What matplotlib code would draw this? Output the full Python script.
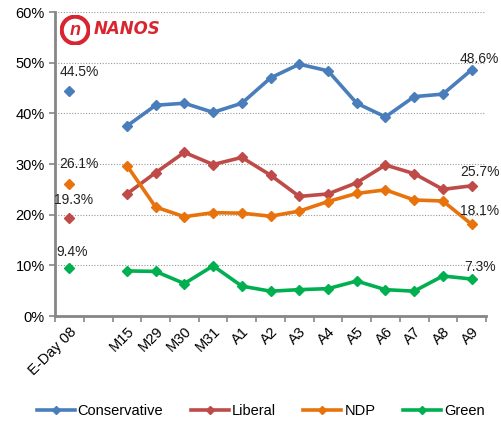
import numpy as np
import matplotlib
matplotlib.use("Agg")
import matplotlib.pyplot as plt
from matplotlib.patches import Circle

plt.rcParams['font.family'] = ['Liberation Sans', 'DejaVu Sans']

# categories (second slot is an empty gap after election day)
categories = ['E-Day 08', '', 'M15', 'M29', 'M30', 'M31', 'A1', 'A2', 'A3',
              'A4', 'A5', 'A6', 'A7', 'A8', 'A9']

nan = np.nan
conservative = [44.5, nan, 37.5, 41.6, 42.0, 40.2, 42.0, 47.0, 49.7, 48.4, 42.0, 39.3, 43.3, 43.8, 48.6]
liberal      = [19.3, nan, 24.1, 28.3, 32.3, 29.9, 31.3, 27.8, 23.6, 24.1, 26.3, 29.8, 28.1, 25.0, 25.7]
ndp          = [26.1, nan, 29.7, 21.5, 19.6, 20.4, 20.3, 19.7, 20.7, 22.6, 24.2, 24.9, 22.9, 22.7, 18.1]
green        = [9.4, nan, 8.9, 8.8, 6.4, 9.9, 5.9, 4.9, 5.2, 5.4, 6.9, 5.2, 4.9, 7.9, 7.3]

series = [('Conservative', conservative, '#4A7EBB'),
          ('Liberal', liberal, '#BE4B48'),
          ('NDP', ndp, '#E8730C'),
          ('Green', green, '#00B050')]

# label offsets in pixels for first and last values
first_off = {'Conservative': (10, 19), 'Liberal': (4, 18), 'NDP': (9, 20), 'Green': (3, 16)}
last_off = {'Conservative': (8, 11), 'Liberal': (8, 14), 'NDP': (8, 13), 'Green': (8, 12)}

fig = plt.figure(figsize=(5.01, 4.21), dpi=100)
ax = fig.add_axes([0.11, 0.2494, 0.86, 0.722])

x = np.arange(len(categories))
for name, vals, col in series:
    vals = np.array(vals, dtype=float)
    ax.plot(x[2:], vals[2:], color=col, lw=2.6, marker='D', ms=5.5, label=name,
            solid_joinstyle='round')
    ax.plot(x[0], vals[0], color=col, marker='D', ms=5.5, ls='none')
    ax.annotate(f'{vals[0]:.1f}%', (x[0], vals[0]), xytext=first_off[name],
                textcoords='offset pixels', ha='center', va='center', fontsize=10, color='#222222')
    ax.annotate(f'{vals[-1]:.1f}%', (x[-1], vals[-1]), xytext=last_off[name],
                textcoords='offset pixels', ha='center', va='center', fontsize=10, color='#222222')

ax.set_xlim(-0.5, len(categories) - 0.5)
ax.set_ylim(0, 60)
ax.set_yticks(np.arange(0, 61, 10))
ax.set_yticklabels([f'{v}%' for v in range(0, 61, 10)], fontsize=10.5)
ax.set_xticks(x)
ax.set_xticklabels(categories, rotation=45, ha='right', rotation_mode='anchor', fontsize=10.5)
ax.set_xticks(np.arange(-0.5, len(categories), 1), minor=True)
ax.tick_params(axis='x', which='major', length=0, pad=6)
ax.tick_params(axis='x', which='minor', length=4, color='#868686', width=1.2)
ax.tick_params(axis='y', length=4, color='#868686', width=1.2, direction='out')

ax.grid(axis='y', ls=(0, (1, 1.5)), color='#999999', lw=0.8)
ax.set_axisbelow(True)
for s in ['top', 'right']:
    ax.spines[s].set_visible(False)
for s in ['left', 'bottom']:
    ax.spines[s].set_color('#868686')
    ax.spines[s].set_linewidth(2)

# Nanos logo
logo_ax = fig.add_axes([0.12, 0.893, 0.06, 0.071])
logo_ax.set_xlim(-1, 1)
logo_ax.set_ylim(-1, 1)
logo_ax.set_aspect('equal')
logo_ax.axis('off')
logo_ax.add_patch(Circle((0, 0), 0.9, fill=False, ec='#D7262F', lw=3))
logo_ax.text(0, -0.05, 'n', color='#D7262F', fontsize=13, fontweight='bold', ha='center', va='center',
             style='italic')
fig.text(0.186, 0.932, 'NANOS', color='#D7262F', fontsize=12, fontweight='bold', style='italic',
         family=['Liberation Sans Narrow', 'DejaVu Sans'], va='center', ha='left')

fig.legend(loc='lower center', ncol=4, frameon=False, fontsize=10.5, bbox_to_anchor=(0.52, -0.025),
           handlelength=2.6, columnspacing=1.9, handletextpad=0.2, markerscale=0.75)

fig.savefig('out.png', dpi=100)
